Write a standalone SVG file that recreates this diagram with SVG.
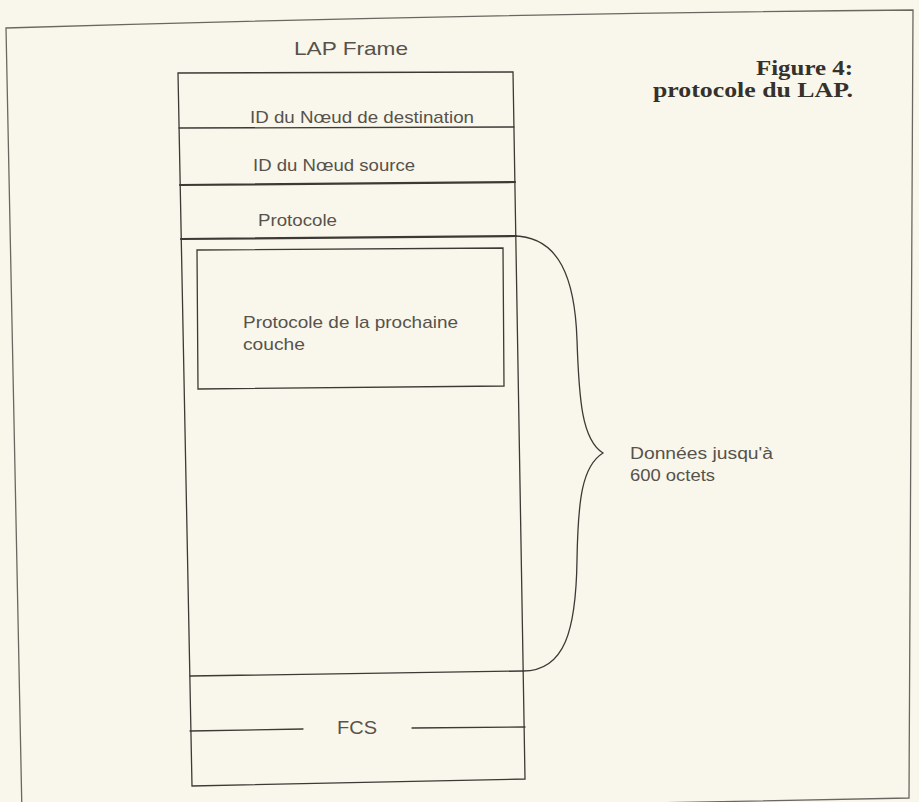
<svg xmlns="http://www.w3.org/2000/svg" width="919" height="802" viewBox="0 0 919 802">
  <style>
    .ln { fill: none; stroke: #3d3935; stroke-width: 1.3; stroke-linecap: round; }
    .thick { stroke-width: 2.2; }
    .border { fill: none; stroke: #6b6760; stroke-width: 1.3; }
    .lbl { font-family: "Liberation Sans", Arial, sans-serif; fill: #57524b; }
    .fig { font-family: "Liberation Serif", "Times New Roman", serif; font-weight: bold; fill: #35312c; }
  </style>
  <rect x="0" y="0" width="919" height="802" fill="#f9f7eb"/>
  <g id="page-border">
    <path class="border" d="M22,815 L6,28 Q 470,14 913,10 L909,798 L22,815"/>
  </g>
  <g id="caption">
    <text class="fig" x="853" y="75" font-size="21" text-anchor="end" textLength="97" lengthAdjust="spacingAndGlyphs">Figure 4:</text>
    <text class="fig" x="853" y="97" font-size="21" text-anchor="end" textLength="200" lengthAdjust="spacingAndGlyphs">protocole du LAP.</text>
  </g>
  <g id="title">
    <text class="lbl" x="294" y="55" font-size="19" textLength="114" lengthAdjust="spacingAndGlyphs">LAP  Frame</text>
  </g>
  <g id="frame">
    <polygon class="ln" points="178,73 513,72 525,779 192,786"/>
  </g>
  <g id="dest">
    <line class="ln" x1="179" y1="128" x2="514" y2="127"/>
    <text class="lbl" x="250" y="123" font-size="17" textLength="224" lengthAdjust="spacingAndGlyphs">ID du Nœud de destination</text>
  </g>
  <g id="source">
    <line class="ln thick" x1="180" y1="185" x2="515" y2="182"/>
    <text class="lbl" x="253" y="171" font-size="17" textLength="162" lengthAdjust="spacingAndGlyphs">ID du Nœud source</text>
  </g>
  <g id="protocole">
    <line class="ln thick" x1="181" y1="239" x2="516" y2="236"/>
    <text class="lbl" x="258" y="226" font-size="17" textLength="79" lengthAdjust="spacingAndGlyphs">Protocole</text>
  </g>
  <g id="next-layer">
    <polygon class="ln" points="197,250 503,248 504,386 198,389"/>
    <text class="lbl" x="243" y="328" font-size="17" textLength="215" lengthAdjust="spacingAndGlyphs">Protocole de la prochaine</text>
    <text class="lbl" x="243" y="350" font-size="17" textLength="62" lengthAdjust="spacingAndGlyphs">couche</text>
  </g>
  <g id="data-end">
    <line class="ln" x1="190" y1="676" x2="523" y2="671"/>
  </g>
  <g id="fcs">
    <line class="ln" x1="190" y1="731" x2="303" y2="729" stroke-width="2.4"/>
    <line class="ln" x1="412" y1="728" x2="525" y2="727" stroke-width="2.4"/>
    <text class="lbl" x="357" y="734" font-size="19" text-anchor="middle" textLength="40" lengthAdjust="spacingAndGlyphs">FCS</text>
  </g>
  <g id="connectors">
    <path class="ln" d="M513,236 C 560,236 575,280 577,340 C 579,400 582,440 603,453 C 582,466 578,500 577,560 C 576,630 565,671 523,671"/>
  </g>
  <g id="data-label">
    <text class="lbl" x="630" y="459" font-size="16" textLength="143" lengthAdjust="spacingAndGlyphs">Données jusqu'à</text>
    <text class="lbl" x="630" y="481" font-size="16" textLength="85" lengthAdjust="spacingAndGlyphs">600 octets</text>
  </g>
</svg>
